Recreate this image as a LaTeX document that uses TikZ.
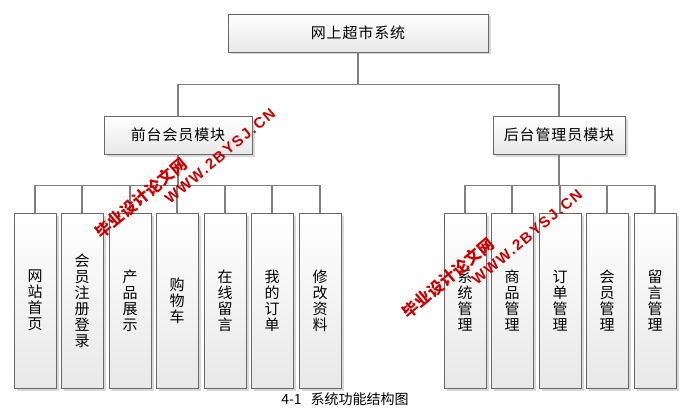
\documentclass[tikz,border=0pt]{standalone}
\usepackage{fontspec}
\newfontfamily\cjk{Noto Sans CJK SC}
\newfontfamily\cjkwide{Noto Sans CJK SC}[LetterSpace=6]
\newfontfamily\cjkwm{Noto Sans CJK SC}[LetterSpace=2]
\newfontfamily\wmlat{Liberation Sans}[LetterSpace=12]
\usetikzlibrary{shadows}
\definecolor{boxline}{RGB}{105,105,105}
\definecolor{conncol}{RGB}{128,128,128}
\definecolor{wmred}{RGB}{200,0,0}
\tikzset{
  box/.style={draw=boxline, line width=0.9pt, top color=white, bottom color=black!9,
    drop shadow={shadow xshift=2.5pt, shadow yshift=-2.5pt, fill=black!30}, inner sep=0pt},
  modbox/.style={box, minimum height=38pt, font=\cjkwide\fontsize{15}{16}\selectfont},
  leaf/.style={box, minimum width=42pt, minimum height=175pt, align=center,
    font=\cjk\fontsize{15}{16}\selectfont},
  conn/.style={draw=conncol, line width=1.2pt},
  wmcn/.style={text=wmred, rotate=40, inner sep=0pt, font=\cjkwm\bfseries\fontsize{16}{17}\selectfont},
  wmen/.style={text=wmred, rotate=40, inner sep=0pt, font=\wmlat\bfseries\fontsize{15}{16}\selectfont}
}
\begin{document}
\begin{tikzpicture}[x=1pt, y=-1pt]
\fill[white] (0,0) rectangle (696,420);
\useasboundingbox (0,0) rectangle (696,420);

% top
\node[modbox, minimum width=260pt] (top) at (358,33) {网上超市系统};
% modules
\node[modbox, minimum width=148pt] (front) at (178,135) {前台会员模块};
\node[modbox, minimum width=132pt] (back) at (559,135) {后台管理员模块};

% front leaves
\node[leaf] (f1) at (35,300.5) {网\\站\\首\\页};
\node[leaf] (f2) at (82,300.5) {会\\员\\注\\册\\登\\录};
\node[leaf] (f3) at (130,300.5) {产\\品\\展\\示};
\node[leaf] (f4) at (177,300.5) {购\\物\\车};
\node[leaf] (f5) at (225,300.5) {在\\线\\留\\言};
\node[leaf] (f6) at (272,300.5) {我\\的\\订\\单};
\node[leaf] (f7) at (320,300.5) {修\\改\\资\\料};

% back leaves
\node[leaf] (b1) at (465,300.5) {系\\统\\管\\理};
\node[leaf] (b2) at (512,300.5) {商\\品\\管\\理};
\node[leaf] (b3) at (560,300.5) {订\\单\\管\\理};
\node[leaf] (b4) at (607,300.5) {会\\员\\管\\理};
\node[leaf] (b5) at (655,300.5) {留\\言\\管\\理};

% connectors
\draw[conn] (top.south) -- ++(0,32) -| (front.north);
\draw[conn] (top.south) -- ++(0,32) -| (back.north);
\foreach \n in {f1,f2,f3,f4,f5,f6,f7}
  \draw[conn] (front.south) -- ++(0,31) -| (\n.north);
\foreach \n in {b1,b2,b3,b4,b5}
  \draw[conn] (back.south) -- ++(0,31) -| (\n.north);

% caption
\node (cap) at (345,399) {\cjk\fontsize{14}{15}\selectfont 4-1\hspace{9pt}系统功能结构图};

% watermarks
\node[wmcn] (wm1a) at (141,198) {毕业设计论文网};
\node[wmen] (wm1b) at (220,156) {WWW.2BYSJ.CN};
\node[wmcn] (wm2a) at (448,278) {毕业设计论文网};
\node[wmen] (wm2b) at (527,237) {WWW.2BYSJ.CN};
\end{tikzpicture}
\end{document}
